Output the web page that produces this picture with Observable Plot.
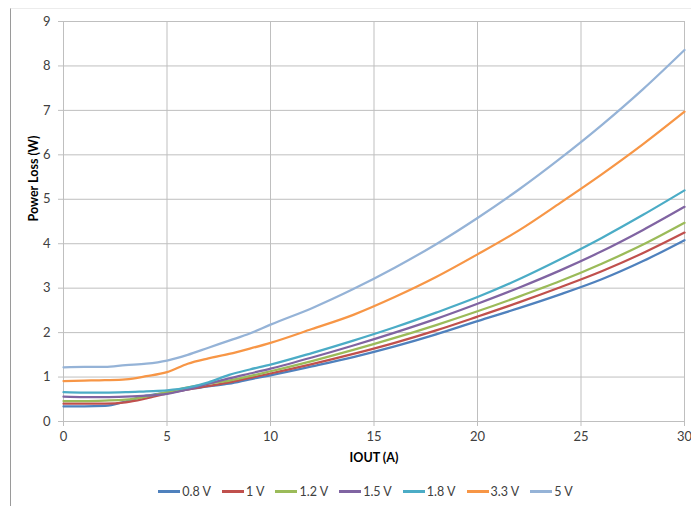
<!DOCTYPE html>
<html>
<head>
<meta charset="utf-8">
<script src="https://cdn.jsdelivr.net/npm/d3@7"></script>
<script src="https://cdn.jsdelivr.net/npm/@observablehq/plot@0.6"></script>
<style>
  body { margin: 0; background: #fff; font-family: Lato, "Open Sans", sans-serif; }
  #wrap { position: relative; width: 691px; height: 506px; overflow: hidden; }
  #frame { position: absolute; left: 10px; top: 8px; right: -2px; bottom: -2px;
           border-left: 1px solid #9a9a9a; border-top: 1px solid #ececec; pointer-events: none; }
  #chart { position: absolute; left: 0; top: 0; }
  #legend { position: absolute; top: 484px; left: 20px; width: 691px; display: flex; justify-content: center;
            font-size: 12.5px; color: #404040; gap: 11px; }
  .item { display: flex; align-items: center; gap: 2px; }
  .sw { width: 22px; height: 3px; }
</style>
</head>
<body>
<div id="wrap">
  <div id="frame"></div>
  <div id="chart"></div>
  <div id="legend"></div>
</div>
<script>
const iout = [0,1,2,3,4,5,6,7,8,9,10,12,14,16,18,20,22,24,26,28,30];
const seriesNames = ["0.8 V","1 V","1.2 V","1.5 V","1.8 V","3.3 V","5 V"];
const seriesColors = ["#4f81bd","#c0504d","#9bbb59","#8064a2","#4bacc6","#f79646","#95b3d7"];
const v08 = [0.34,0.34,0.35,0.45,0.58,0.65,0.72,0.79,0.85,0.95,1.04,1.24,1.45,1.69,1.96,2.26,2.55,2.86,3.20,3.61,4.08];
const v10 = [0.40,0.40,0.40,0.43,0.52,0.63,0.72,0.80,0.88,0.98,1.08,1.29,1.52,1.77,2.05,2.36,2.68,3.02,3.38,3.79,4.25];
const v12 = [0.46,0.46,0.47,0.49,0.56,0.66,0.77,0.85,0.92,1.02,1.13,1.36,1.61,1.88,2.17,2.48,2.81,3.16,3.55,3.98,4.47];
const v15 = [0.56,0.55,0.55,0.56,0.58,0.62,0.72,0.85,0.97,1.08,1.19,1.44,1.71,2.00,2.31,2.65,3.01,3.40,3.83,4.31,4.83];
const v18 = [0.66,0.65,0.65,0.66,0.68,0.70,0.76,0.88,1.05,1.17,1.28,1.54,1.82,2.12,2.45,2.80,3.20,3.65,4.13,4.65,5.20];
const v33 = [0.91,0.92,0.93,0.95,1.02,1.11,1.30,1.42,1.52,1.64,1.77,2.08,2.40,2.80,3.25,3.76,4.30,4.92,5.56,6.24,6.97];
const v50 = [1.22,1.23,1.23,1.27,1.30,1.37,1.50,1.66,1.82,1.98,2.18,2.55,2.98,3.46,3.99,4.58,5.22,5.92,6.67,7.48,8.36];
const xTicks = [0,5,10,15,20,25,30];
const yTicks = [0,1,2,3,4,5,6,7,8,9];
const xTitle = "IOUT (A)";
const yTitle = "Power Loss (W)";

const allSeries = [v08, v10, v12, v15, v18, v33, v50];
const rows = [];
allSeries.forEach((vals, si) => {
  vals.forEach((v, i) => rows.push({ series: seriesNames[si], iout: iout[i], loss: v }));
});

const chart = Plot.plot({
  width: 691,
  height: 475,
  marginLeft: 63,
  marginRight: 7,
  marginTop: 21,
  marginBottom: 54,
  style: { fontFamily: "Lato, 'Open Sans', sans-serif", fontSize: "13px", color: "#404040", background: "transparent", overflow: "visible" },
  x: { domain: [0, 30], ticks: xTicks, label: null },
  y: { domain: [0, 9], ticks: yTicks, label: null },
  color: { domain: seriesNames, range: seriesColors },
  marks: [
    Plot.gridX(xTicks, { stroke: "#bfbfbf", strokeOpacity: 1, strokeWidth: 1 }),
    Plot.gridY(yTicks, { stroke: "#bfbfbf", strokeOpacity: 1, strokeWidth: 1 }),
    Plot.axisX({ ticks: xTicks, tickSize: 5, tickPadding: 5, stroke: "#bfbfbf", label: null, fontSize: 13 }),
    Plot.axisY({ ticks: yTicks, tickSize: 5, tickPadding: 8, stroke: "#bfbfbf", label: null, fontSize: 13 }),
    Plot.line(rows, { x: "iout", y: "loss", z: "series", stroke: "series", strokeWidth: 2.25, curve: "monotone-x" }),
    Plot.text([yTitle], { frameAnchor: "left", dx: -30, rotate: -90, fontWeight: "bold", fontSize: 12.5, fill: "#000" }),
    Plot.text([xTitle], { frameAnchor: "bottom", dy: 40, fontWeight: "bold", fontSize: 12.5, fill: "#000" })
  ]
});
document.getElementById("chart").appendChild(chart);

const legend = document.getElementById("legend");
seriesNames.forEach((name, i) => {
  const it = document.createElement("div");
  it.className = "item";
  const sw = document.createElement("div");
  sw.className = "sw";
  sw.style.background = seriesColors[i];
  const tx = document.createElement("span");
  tx.textContent = name;
  it.appendChild(sw);
  it.appendChild(tx);
  legend.appendChild(it);
});
</script>
</body>
</html>
